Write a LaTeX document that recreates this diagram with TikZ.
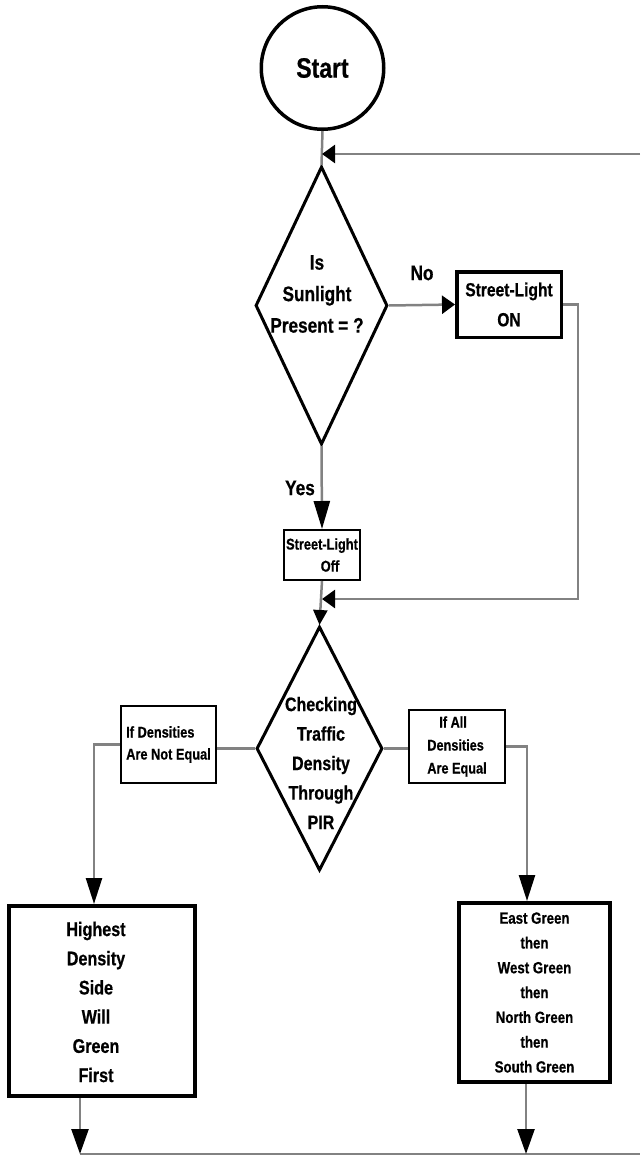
\documentclass[tikz,border=0pt]{standalone}
\usepackage{fontspec}
\setmainfont{Liberation Sans}[FakeStretch=0.82,FakeBold=0.6]
\usetikzlibrary{arrows.meta,shapes.geometric}
\newcommand\fsz[2]{\fontsize{#1}{#2}\selectfont}
\definecolor{lgray}{HTML}{828282}
\begin{document}
\begin{tikzpicture}[x=1pt,y=-1pt,
  every node/.style={font=\bfseries, text=black},
  conn/.style={draw=lgray,line width=2.5pt},
  box/.style={draw=black,rectangle,inner sep=1pt},
  dia/.style={draw=black,diamond,line width=3pt,inner sep=0pt},
  arrT/.style={-{Triangle[length=13pt,width=18pt,color=black]}},
  arrYes/.style={-{Triangle[length=28pt,width=16pt,color=black]}},
  arrD/.style={-{Triangle[length=15pt,width=14pt,color=black]}},
  arrBig/.style={-{Triangle[length=26pt,width=16pt,color=black]}},
  arrBot/.style={-{Triangle[length=25pt,width=17pt,color=black]}}]
\useasboundingbox (0,0) rectangle (640,1156);

% nodes
\node[draw=black,circle,line width=3.5pt,minimum size=122.5pt,inner sep=0pt,font=\bfseries\fsz{28}{30}] (start) at (322.5,68) {Start};
\node[dia,minimum width=132pt,minimum height=278pt] (d1) at (321.5,305.5) {};
\node[font=\bfseries\fsz{21}{31.5},align=center] (d1t) at (317,294) {Is\\Sunlight\\Present = ?};
\node[box,line width=3.5pt,minimum width=104.5pt,minimum height=65.5pt,font=\bfseries\fsz{19}{30},align=center] (on) at (509,304.5) {Street-Light\\ON};
\node[font=\bfseries\fsz{21}{24}] (no) at (422,273) {No};
\node[font=\bfseries\fsz{21}{24}] (yes) at (300,488) {Yes};
\node[box,line width=2pt,minimum width=76pt,minimum height=50pt,font=\bfseries\fsz{15.6}{22},align=center] (off) at (322,555) {Street-Light\\\hspace*{16pt}Off};
\node[dia,minimum width=126pt,minimum height=244pt] (d2) at (319.5,748.5) {};
\node[font=\bfseries\fsz{19.5}{29.5},align=center] (d2t) at (321,763) {Checking\\Traffic\\Density\\Through\\PIR};
\node[box,line width=2.3pt,minimum width=94.7pt,minimum height=76.7pt,font=\bfseries\fsz{15.6}{22},align=left] (ne) at (168.5,744.5) {If Densities\\Are Not Equal};
\node[box,line width=2.3pt,minimum width=95.7pt,minimum height=72.7pt,font=\bfseries\fsz{15.5}{23},align=left] (eq) at (457,746.5) {\hspace*{12pt}If All\\Densities\\Are Equal};
\node[box,line width=4.3pt,minimum width=185.7pt,minimum height=189.7pt] (lbig) at (102,1001) {};
\node[font=\bfseries\fsz{19.7}{29.2},align=center] (lbigt) at (96,1002) {Highest\\Density\\Side\\Will\\Green\\First};
\node[box,line width=4.3pt,minimum width=150.7pt,minimum height=178.7pt,font=\bfseries\fsz{16.2}{24.8},align=center] (rbig) at (534.5,992.5) {East Green\\then\\West Green\\then\\North Green\\then\\South Green};

% coordinates
\coordinate (edgeT) at (640,154);
\coordinate (jT) at (322,154);
\coordinate (jM) at (322,599);
\coordinate (bL) at (80,1154);
\coordinate (bR) at (526,1154);
\coordinate (bE) at (640,1154);

% connectors
\draw[conn] (start.south) -- (d1.north);
\draw[conn,arrT] (edgeT) -- (jT);
\draw[conn,arrT] (d1.east) -- (on.west);
\draw[conn,arrT] (on.east) -- ++(15,0) |- (jM);
\draw[conn,arrYes] (d1.south) -- (off.north);
\draw[conn,arrD] (off.south) -- (d2.north);
\draw[conn] (d2.west) -- (d2.west -| ne.east);
\draw[conn,arrBig] (ne.west) -| ([xshift=-8pt]lbig.north);
\draw[conn] (d2.east) -- (d2.east -| eq.west);
\draw[conn,arrBig] (eq.east) -| ([xshift=-7.5pt]rbig.north);
\draw[conn] (bL) -- (bE);
\draw[conn,arrBot] (lbig.south -| bL) -- (bL);
\draw[conn,arrBot] (rbig.south -| bR) -- (bR);
\end{tikzpicture}
\end{document}
